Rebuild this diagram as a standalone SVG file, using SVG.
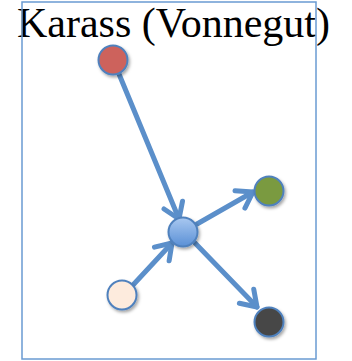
<svg xmlns="http://www.w3.org/2000/svg" width="352" height="361" viewBox="0 0 352 361">
<style>
.title{font-family:"Liberation Serif","Times New Roman",serif;font-size:42px;fill:#000}
.conn{stroke:#5B8FCA;stroke-width:5;fill:none;stroke-linecap:round}
.node{stroke:#4F81BD;stroke-width:2;filter:url(#sh)}
</style>
<defs>
<marker id="arr" markerUnits="userSpaceOnUse" orient="auto" markerWidth="40" markerHeight="40" refX="0" refY="0" viewBox="-20 -20 40 40" overflow="visible">
<path d="M-15,-10 L0,0 L-15,10" fill="none" stroke="#5B8FCA" stroke-width="5" stroke-linecap="round" stroke-linejoin="round"/>
</marker>
<linearGradient id="bg" x1="0" y1="0" x2="0" y2="1">
<stop offset="0" stop-color="#A9C8F0"/>
<stop offset="1" stop-color="#5A90D6"/>
</linearGradient>
<filter id="sh" x="-50%" y="-50%" width="200%" height="200%">
<feDropShadow dx="1.5" dy="2" stdDeviation="1.5" flood-color="#000" flood-opacity="0.35"/>
</filter>
</defs>
<text class="title" x="17" y="37">Karass (Vonnegut)</text>
<rect x="22" y="2" width="294" height="357" fill="none" stroke="#6A9BD2" stroke-width="1.5"/>
<g id="connectors">
<line class="conn" x1="119" y1="74" x2="179" y2="219" marker-end="url(#arr)"/>
<line class="conn" x1="197" y1="224" x2="253" y2="192" marker-end="url(#arr)"/>
<line class="conn" x1="133" y1="285" x2="172" y2="243" marker-end="url(#arr)"/>
<line class="conn" x1="195" y1="243" x2="257" y2="307" marker-end="url(#arr)"/>
</g>
<g id="red"><circle class="node" cx="113" cy="60" r="14.5" fill="#CD625C"/></g>
<g id="center"><circle class="node" cx="183" cy="232" r="14.5" fill="url(#bg)"/></g>
<g id="green"><circle class="node" cx="269" cy="191" r="14.5" fill="#7A9A40"/></g>
<g id="cream"><circle class="node" cx="122" cy="295" r="14.5" fill="#FDEBDD"/></g>
<g id="dark"><circle class="node" cx="269" cy="322" r="14.5" fill="#474747"/></g>
</svg>
